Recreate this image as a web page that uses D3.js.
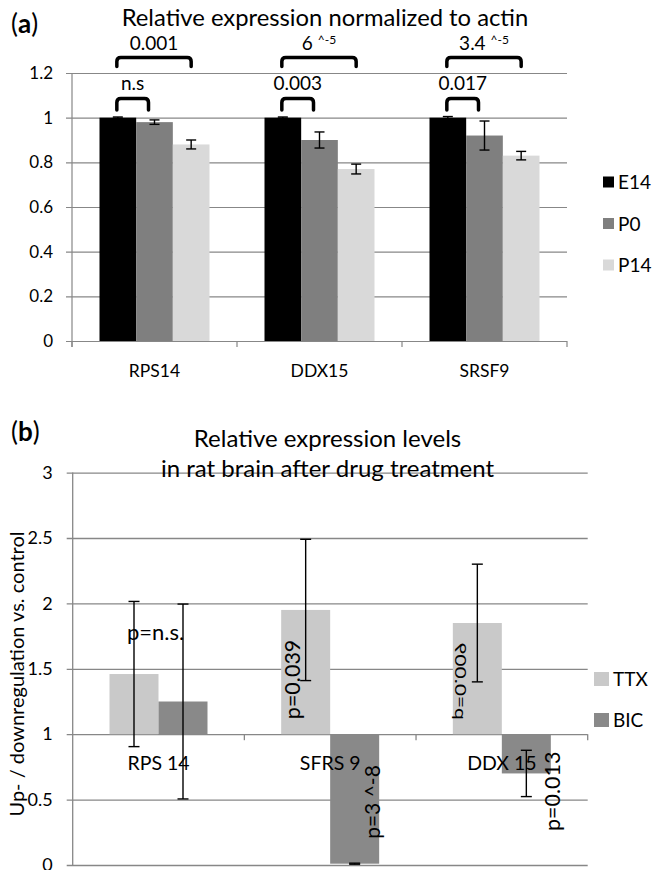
<!DOCTYPE html>
<html>
<head>
<meta charset="utf-8">
<script src="https://cdn.jsdelivr.net/npm/d3@7"></script>
<style>
body { margin: 0; background: #fff; }
svg text { font-family: Lato, "Open Sans", sans-serif; fill: #000; }
</style>
</head>
<body>
<svg id="chart" width="654" height="870"></svg>
<script>
// ---- panel (a) data
const genesA = ["RPS14", "DDX15", "SRSF9"]
const stagesA = ["E14", "P0", "P14"]
const valE14 = [1.0, 1.0, 1.0]
const errE14 = [0.003, 0.003, 0.005]
const valP0 = [0.98, 0.90, 0.92]
const errP0 = [0.01, 0.036, 0.065]
const valP14 = [0.88, 0.77, 0.83]
const errP14 = [0.02, 0.022, 0.019]
const ticksA = [0, 0.2, 0.4, 0.6, 0.8, 1, 1.2]
const tickLabelsA = ["0", "0.2", "0.4", "0.6", "0.8", "1", "1.2"]
const pSmallA = ["n.s", "0.003", "0.017"]      // E14 vs P0
const pBigA = ["0.001", "6 ", "3.4 "]          // E14 vs P14
const pBigExpA = ["", "^-5", "^-5"]

// ---- panel (b) data
const genesB = ["RPS 14", "SFRS 9", "DDX 15"]
const drugsB = ["TTX", "BIC"]
const valTTX = [1.46, 1.95, 1.85]
const errTTX = [0.555, 0.54, 0.45]
const valBIC = [1.25, 0.01, 0.70]
const errBIC = [0.745, 0.004, 0.177]
const ticksB = [0, 0.5, 1, 1.5, 2, 2.5, 3]
const tickLabelsB = ["0", "0.5", "1", "1.5", "2", "2.5", "3"]
const pTTX = ["p=n.s.", "p=0.039", "p=0.009"]
const pBIC = ["", "p=3 ^-8", "p=0.013"]

const svg = d3.select("#chart")
const gridColor = "#878787"

function errorBar(g, x, yTop, yBot, half) {
    g.append("line").attr("x1", x).attr("x2", x).attr("y1", yTop).attr("y2", yBot)
    g.append("line").attr("x1", x - half).attr("x2", x + half).attr("y1", yTop).attr("y2", yTop)
    g.append("line").attr("x1", x - half).attr("x2", x + half).attr("y1", yBot).attr("y2", yBot)
}

function bracket(x1, x2, yTop, yBot) {
    const r = 4
    return `M${x1},${yBot} L${x1},${yTop + r} Q${x1},${yTop} ${x1 + r},${yTop} L${x2 - r},${yTop} Q${x2},${yTop} ${x2},${yTop + r} L${x2},${yBot}`
}

// ================= panel (a)
const xA = d3.scaleBand().domain(genesA).range([72, 567])
const subA = d3.scaleBand().domain(stagesA).range([27.5, 137.5])
const yA = d3.scaleLinear().domain([0, 1.2]).range([341, 73])
const colorA = d3.scaleOrdinal().domain(stagesA).range(["#000000", "#7f7f7f", "#d9d9d9"])

const rowsA = genesA.map((g, i) => ({
    gene: g,
    vals: [
        { s: "E14", v: valE14[i], e: errE14[i] },
        { s: "P0", v: valP0[i], e: errP0[i] },
        { s: "P14", v: valP14[i], e: errP14[i] }
    ]
}))

const gA = svg.append("g")

// grid + y labels
gA.append("g")
    .attr("transform", "translate(72,0)")
    .call(d3.axisLeft(yA).tickValues(ticksA).tickFormat((d, i) => tickLabelsA[i])
        .tickSizeInner(-(xA.range()[1] - xA.range()[0])).tickSizeOuter(0).tickPadding(19))
    .call(g => {
        g.attr("font-family", null).attr("font-size", null)
        g.select(".domain").remove()
        g.selectAll(".tick line").attr("x1", -6).attr("stroke", gridColor).attr("stroke-width", 1.2)
        g.selectAll(".tick text").attr("font-size", 17)
    })

gA.append("line").attr("x1", 72).attr("x2", 72).attr("y1", yA(1.2)).attr("y2", yA(0) + 6)
    .attr("stroke", gridColor).attr("stroke-width", 1.2)

const boundsA = genesA.map(g => xA(g)).concat([xA.range()[1]])
gA.selectAll(".btick").data(boundsA).join("line")
    .attr("x1", d => d).attr("x2", d => d).attr("y1", yA(0)).attr("y2", yA(0) + 6)
    .attr("stroke", gridColor).attr("stroke-width", 1.2)

gA.selectAll(".glabel").data(genesA).join("text")
    .attr("x", d => xA(d) + xA.bandwidth() / 2).attr("y", 377)
    .attr("text-anchor", "middle").attr("font-size", 17.5)
    .text(d => d)

const grpA = gA.selectAll(".grp").data(rowsA).join("g")
    .attr("transform", d => `translate(${xA(d.gene)},0)`)

grpA.selectAll("rect").data(d => d.vals).join("rect")
    .attr("x", d => subA(d.s)).attr("width", subA.bandwidth())
    .attr("y", d => yA(d.v)).attr("height", d => yA(0) - yA(d.v))
    .attr("fill", d => colorA(d.s))

const errA = gA.append("g").attr("stroke", "#000").attr("stroke-width", 1.4)
rowsA.forEach(r => r.vals.forEach(d => {
    const cx = xA(r.gene) + subA(d.s) + subA.bandwidth() / 2
    errorBar(errA, cx, yA(d.v + d.e), yA(d.v - d.e), 5)
}))

// significance brackets
const brA = gA.append("g").attr("fill", "none").attr("stroke", "#000")
    .attr("stroke-width", 3.5).attr("stroke-linejoin", "round").attr("stroke-linecap", "round")
genesA.forEach((g, i) => {
    const bw = subA.bandwidth()
    const x0 = xA(g) + subA("E14") + bw / 2 - 1
    const xs = xA(g) + subA("P0") + bw / 2 - 6
    const xb = xA(g) + subA("P14") + bw / 2
    brA.append("path").attr("d", bracket(x0, xs, 98.5, 110))
    brA.append("path").attr("d", bracket(x0, xb, 57.5, 66.5))
    gA.append("text").attr("x", (x0 + xs) / 2).attr("y", 90)
        .attr("text-anchor", "middle").attr("font-size", 19).text(pSmallA[i])
    const t = gA.append("text").attr("x", (x0 + xb) / 2).attr("y", 49.5)
        .attr("text-anchor", "middle").attr("font-size", 19)
    t.append("tspan").text(pBigA[i])
    if (pBigExpA[i]) t.append("tspan").attr("font-size", 12).attr("dy", -6).text(pBigExpA[i])
})

// legend
const legA = gA.selectAll(".legA").data(stagesA).join("g")
    .attr("transform", (d, i) => `translate(603,${182 + i * 41.5})`)
legA.append("rect").attr("x", 0).attr("y", -5.5).attr("width", 11).attr("height", 11)
    .attr("fill", d => colorA(d))
legA.append("text").attr("x", 15).attr("y", 7).attr("font-size", 19).text(d => d)

// title + panel letter
gA.append("text").attr("x", 325).attr("y", 25.5).attr("text-anchor", "middle")
    .attr("font-size", 23.8).text("Relative expression normalized to actin")
const la = gA.append("text").attr("x", 11).attr("y", 33).attr("font-size", 26)
la.append("tspan").text("(")
la.append("tspan").attr("font-weight", "bold").text("a")
la.append("tspan").text(")")

// ================= panel (b)
const xB = d3.scaleBand().domain(genesB).range([72.7, 587.7])
const subB = d3.scaleBand().domain(drugsB).range([36.8, 134.8])
const yB = d3.scaleLinear().domain([0, 3]).range([865, 472.6])
const colorB = d3.scaleOrdinal().domain(drugsB).range(["#c9c9c9", "#898989"])

const rowsB = genesB.map((g, i) => ({
    gene: g,
    vals: [
        { s: "TTX", v: valTTX[i], e: errTTX[i], p: pTTX[i] },
        { s: "BIC", v: valBIC[i], e: errBIC[i], p: pBIC[i] }
    ]
}))

const gB = svg.append("g")

gB.append("g")
    .attr("transform", "translate(72.7,0)")
    .call(d3.axisLeft(yB).tickValues(ticksB).tickFormat((d, i) => tickLabelsB[i])
        .tickSizeInner(-(xB.range()[1] - xB.range()[0])).tickSizeOuter(0).tickPadding(20))
    .call(g => {
        g.attr("font-family", null).attr("font-size", null)
        g.select(".domain").remove()
        g.selectAll(".tick line").attr("x1", -6).attr("stroke", gridColor).attr("stroke-width", 1.3)
        g.selectAll(".tick text").attr("font-size", 18)
    })

gB.append("line").attr("x1", 72.7).attr("x2", 72.7).attr("y1", yB(3)).attr("y2", yB(0))
    .attr("stroke", gridColor).attr("stroke-width", 1.3)

const grpB = gB.selectAll(".grp").data(rowsB).join("g")
    .attr("transform", d => `translate(${xB(d.gene)},0)`)

grpB.selectAll("rect").data(d => d.vals).join("rect")
    .attr("x", d => subB(d.s)).attr("width", subB.bandwidth())
    .attr("y", d => Math.min(yB(d.v), yB(1)))
    .attr("height", d => Math.abs(yB(d.v) - yB(1)))
    .attr("fill", d => colorB(d.s))

// category axis crossing at 1
const boundsB = genesB.slice(1).map(g => xB(g)).concat([xB.range()[1]])
gB.selectAll(".btick").data(boundsB).join("line")
    .attr("x1", d => d).attr("x2", d => d).attr("y1", yB(1)).attr("y2", yB(1) + 6)
    .attr("stroke", gridColor).attr("stroke-width", 1.3)

gB.selectAll(".glabel").data(genesB).join("text")
    .attr("x", d => xB(d) + xB.bandwidth() / 2).attr("y", yB(1) + 36)
    .attr("text-anchor", "middle").attr("font-size", 19.5)
    .text(d => d)

const errB = gB.append("g").attr("stroke", "#000").attr("stroke-width", 1.4)
rowsB.forEach(r => r.vals.forEach(d => {
    const cx = xB(r.gene) + subB(d.s) + subB.bandwidth() / 2
    errorBar(errB, cx, yB(d.v + d.e), yB(d.v - d.e), 5.5)
}))

// p-value annotations
function barCenter(gene, drug) { return xB(gene) + subB(drug) + subB.bandwidth() / 2 }
gB.append("text").attr("x", barCenter(genesB[0], "TTX") - 7).attr("y", yB(1.72))
    .attr("font-size", 22).text(pTTX[0])
gB.append("text").attr("font-size", 21.5)
    .attr("transform", `translate(${barCenter(genesB[1], "TTX") - 6},${yB(1.115)}) rotate(-90)`)
    .text(pTTX[1])
gB.append("text").attr("font-size", 21)
    .attr("transform", `translate(${barCenter(genesB[2], "TTX") - 22},${yB(1.11)}) rotate(-90) scale(1,-0.75)`)
    .text(pTTX[2])
gB.append("text").attr("font-size", 21)
    .attr("transform", `translate(${barCenter(genesB[1], "BIC") + 25},${yB(0.2)}) rotate(-90)`)
    .text(pBIC[1])
gB.append("text").attr("font-size", 21.5)
    .attr("transform", `translate(${barCenter(genesB[2], "BIC") + 34},${yB(0.26)}) rotate(-90)`)
    .text(pBIC[2])

// legend
const legB = gB.selectAll(".legB").data(drugsB).join("g")
    .attr("transform", (d, i) => `translate(594,${679 + i * 41})`)
legB.append("rect").attr("x", 0).attr("y", -7).attr("width", 15).attr("height", 14)
    .attr("fill", d => colorB(d))
legB.append("text").attr("x", 19).attr("y", 7).attr("font-size", 19).text(d => d)

// axis title
gB.append("text").attr("transform", "translate(24,674) rotate(-90)")
    .attr("text-anchor", "middle").attr("font-size", 20)
    .text("Up- / downregulation vs. control")

// title + panel letter
gB.append("text").attr("x", 327.5).attr("y", 447).attr("text-anchor", "middle")
    .attr("font-size", 24).text("Relative expression levels")
gB.append("text").attr("x", 327.5).attr("y", 477).attr("text-anchor", "middle")
    .attr("font-size", 24).text("in rat brain after drug treatment")
const lb = gB.append("text").attr("x", 11).attr("y", 441).attr("font-size", 26)
lb.append("tspan").text("(")
lb.append("tspan").attr("font-weight", "bold").text("b")
lb.append("tspan").text(")")
</script>
</body>
</html>
